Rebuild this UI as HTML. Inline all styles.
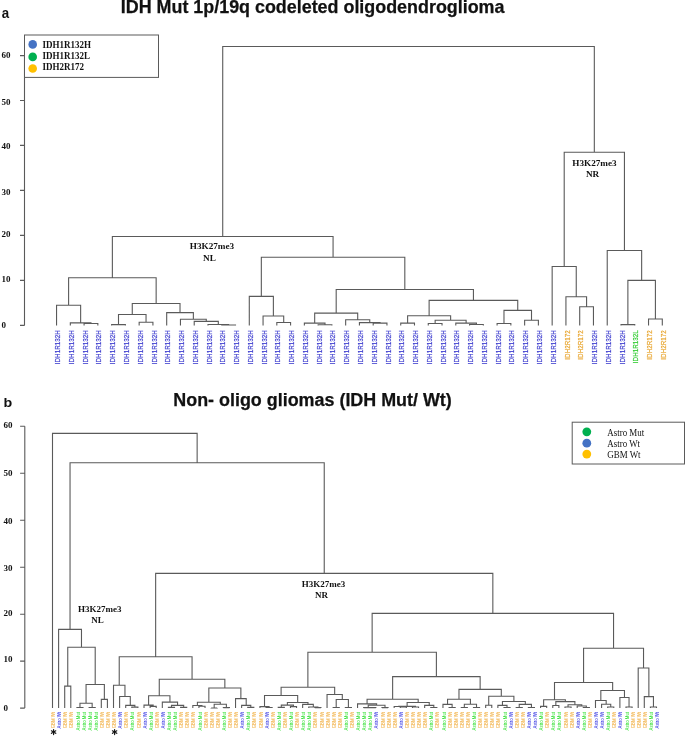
<!DOCTYPE html>
<html><head><meta charset="utf-8"><style>
html,body{margin:0;padding:0;background:#fff;}
body{width:685px;height:736px;overflow:hidden;}
svg{display:block;will-change:transform;}
.t{font-family:"Liberation Sans",sans-serif;font-weight:bold;}
.s{font-family:"Liberation Serif",serif;}
</style></head><body>
<svg width="685" height="736" viewBox="0 0 685 736">
<rect width="685" height="736" fill="#fff"/>

<text class="t" x="120.8" y="12.6" font-size="17.9" fill="#111" stroke="#111" stroke-width="0.25">IDH Mut 1p/19q codeleted oligodendroglioma</text>
<text class="t" x="173.3" y="405.6" font-size="17.92" fill="#111" stroke="#111" stroke-width="0.25">Non- oligo gliomas (IDH Mut/ Wt)</text>
<text class="t" x="0" y="0" font-size="15.5" fill="#111" transform="translate(1.7 18) scale(0.86 1)">a</text>
<text class="t" x="0" y="0" font-size="13.6" fill="#111" transform="translate(3.5 407.2) scale(1.05 1)">b</text>
<path d="M24.5 55.6V325.4M20 55.6H24.5M20 100.5H24.5M20 145.4H24.5M20 190.4H24.5M20 235.4H24.5M20 280.4H24.5M20 325.4H24.5" stroke="#5a5a5a" stroke-width="1.1" fill="none"/>
<text class="s" x="1.5" y="58.40" font-size="9" font-weight="bold" fill="#111">60</text>
<text class="s" x="1.5" y="104.75" font-size="9" font-weight="bold" fill="#111">50</text>
<text class="s" x="1.5" y="149.45" font-size="9" font-weight="bold" fill="#111">40</text>
<text class="s" x="1.5" y="194.55" font-size="9" font-weight="bold" fill="#111">30</text>
<text class="s" x="1.5" y="237.35" font-size="9" font-weight="bold" fill="#111">20</text>
<text class="s" x="1.5" y="282.05" font-size="9" font-weight="bold" fill="#111">10</text>
<text class="s" x="1.5" y="328.25" font-size="9" font-weight="bold" fill="#111">0</text>
<path d="M24.8 426.3V708.1M20.1 426.3H24.8M20.1 473.3H24.8M20.1 520.2H24.8M20.1 567.2H24.8M20.1 614.2H24.8M20.1 661.1H24.8M20.1 708.1H24.8" stroke="#5a5a5a" stroke-width="1.1" fill="none"/>
<text class="s" x="3.5" y="427.55" font-size="9" font-weight="bold" fill="#111">60</text>
<text class="s" x="3.5" y="475.95" font-size="9" font-weight="bold" fill="#111">50</text>
<text class="s" x="3.5" y="524.45" font-size="9" font-weight="bold" fill="#111">40</text>
<text class="s" x="3.5" y="570.55" font-size="9" font-weight="bold" fill="#111">30</text>
<text class="s" x="3.5" y="615.85" font-size="9" font-weight="bold" fill="#111">20</text>
<text class="s" x="3.5" y="661.65" font-size="9" font-weight="bold" fill="#111">10</text>
<text class="s" x="3.5" y="710.55" font-size="9" font-weight="bold" fill="#111">0</text>
<path d="M84.08 325.60V323.50H97.85V325.60M70.32 325.60V322.90H90.97V323.50M56.55 325.60V305.30H80.64V322.90M111.62 325.60V324.60H125.38V325.60M139.15 325.60V322.20H152.92V325.60M118.50 324.60V314.50H146.04V322.20M221.75 325.60V325.00H235.52V325.60M207.99 325.60V324.50H228.64V325.00M194.22 325.60V321.40H218.31V324.50M180.45 325.60V319.30H206.27V321.40M166.69 325.60V312.60H193.36V319.30M132.27 314.50V303.50H180.02V312.60M68.60 305.30V277.80H156.15V303.50M276.82 325.60V322.50H290.59V325.60M263.06 325.60V316.00H283.71V322.50M249.29 325.60V296.40H273.38V316.00M318.12 325.60V324.80H331.89V325.60M304.36 325.60V323.10H325.01V324.80M373.19 325.60V323.10H386.96V325.60M359.42 325.60V322.60H380.07V323.10M345.66 325.60V319.70H369.75V322.60M314.68 323.10V313.10H357.70V319.70M400.73 325.60V323.10H414.49V325.60M428.26 325.60V323.50H442.03V325.60M469.56 325.60V324.50H483.33V325.60M455.79 325.60V323.10H476.44V324.50M435.14 323.50V320.30H466.12V323.10M407.61 323.10V315.80H450.63V320.30M497.09 325.60V323.50H510.86V325.60M524.63 325.60V320.30H538.39V325.60M503.98 323.50V310.40H531.51V320.30M429.12 315.80V300.40H517.74V310.40M336.19 313.10V289.50H473.43V300.40M261.33 296.40V257.30H404.81V289.50M112.37 277.80V236.50H333.07V257.30M579.70 325.60V306.80H593.46V325.60M565.93 325.60V296.70H586.58V306.80M552.16 325.60V266.50H576.25V296.70M621.00 325.60V324.60H634.76V325.60M648.53 325.60V319.00H662.30V325.60M627.88 324.60V280.40H655.41V319.00M607.23 325.60V250.50H641.65V280.40M564.21 266.50V152.20H624.44V250.50M222.72 236.50V46.50H594.32V152.20" stroke="#5a5a5a" stroke-width="1.1" fill="none"/>
<path d="M64.70 707.90V686.10H70.80V707.90M76.90 707.90V707.50H83.00V707.90M89.11 707.90V707.50H95.21V707.90M79.95 707.50V703.20H92.16V707.50M101.31 707.90V699.40H107.41V707.90M86.06 703.20V684.50H104.36V699.40M67.75 686.10V647.20H95.21V684.50M58.60 707.90V629.40H81.48V647.20M131.81 707.90V707.10H137.91V707.90M125.71 707.90V705.40H134.86V707.10M119.61 707.90V696.50H130.29V705.40M113.51 707.90V685.30H124.95V696.50M150.12 707.90V706.40H156.22V707.90M144.01 707.90V705.10H153.17V706.40M168.42 707.90V707.40H174.52V707.90M180.62 707.90V707.40H186.72V707.90M171.47 707.40V705.40H183.67V707.40M162.32 707.90V702.10H177.57V705.40M148.59 705.10V695.70H169.94V702.10M198.92 707.90V706.30H205.03V707.90M192.82 707.90V705.50H201.97V706.30M211.13 707.90V708.00H217.23V707.90M223.33 707.90V707.60H229.43V707.90M214.18 708.00V704.30H226.38V707.60M197.40 705.50V702.30H220.28V704.30M247.73 707.90V707.40H253.83V707.90M241.63 707.90V705.40H250.78V707.40M235.53 707.90V698.60H246.21V705.40M208.84 702.30V688.00H240.87V698.60M159.27 695.70V679.30H224.85V688.00M119.23 685.30V656.70H192.06V679.30M266.03 707.90V707.50H272.14V707.90M259.93 707.90V706.60H269.09V707.50M278.24 707.90V707.40H284.34V707.90M290.44 707.90V706.60H296.54V707.90M281.29 707.40V705.10H293.49V706.60M314.84 707.90V707.60H320.94V707.90M308.74 707.90V707.00H317.89V707.60M302.64 707.90V704.40H313.32V707.00M287.39 705.10V702.50H307.98V704.40M264.51 706.60V695.50H297.68V702.50M333.15 707.90V707.50H339.25V707.90M345.35 707.90V707.50H351.45V707.90M336.20 707.50V699.50H348.40V707.50M327.05 707.90V694.50H342.30V699.50M281.10 695.50V687.30H334.67V694.50M369.75 707.90V707.60H375.85V707.90M363.65 707.90V707.60H372.80V707.60M381.95 707.90V707.60H388.06V707.90M368.23 707.60V705.20H385.00V707.60M357.55 707.90V703.90H376.62V705.20M400.26 707.90V707.00H406.36V707.90M394.16 707.90V706.50H403.31V707.00M412.46 707.90V707.00H418.56V707.90M398.73 706.50V706.40H415.51V707.00M430.76 707.90V707.50H436.86V707.90M424.66 707.90V705.40H433.81V707.50M407.12 706.40V702.50H429.24V705.40M367.08 703.90V699.30H418.18V702.50M449.06 707.90V707.50H455.17V707.90M442.96 707.90V704.40H452.12V707.50M461.27 707.90V707.50H467.37V707.90M473.47 707.90V707.50H479.57V707.90M464.32 707.50V704.20H476.52V707.50M447.54 704.40V699.30H470.42V704.20M485.67 707.90V705.20H491.77V707.90M503.97 707.90V707.50H510.07V707.90M497.87 707.90V705.40H507.02V707.50M516.18 707.90V707.50H522.28V707.90M528.38 707.90V707.50H534.48V707.90M519.23 707.50V704.40H531.43V707.50M502.45 705.40V701.50H525.33V704.40M488.72 705.20V696.20H513.89V701.50M458.98 699.30V689.40H501.30V696.20M392.63 699.30V676.60H480.14V689.40M307.88 687.30V652.30H436.39V676.60M540.58 707.90V706.40H546.68V707.90M552.78 707.90V705.50H558.88V707.90M564.98 707.90V707.00H571.09V707.90M583.29 707.90V707.50H589.39V707.90M577.19 707.90V706.00H586.34V707.50M568.03 707.00V704.70H581.76V706.00M555.83 705.50V701.60H574.90V704.70M543.63 706.40V699.70H565.37V701.60M607.69 707.90V707.00H613.79V707.90M601.59 707.90V704.20H610.74V707.00M595.49 707.90V700.50H606.17V704.20M625.99 707.90V707.00H632.10V707.90M619.89 707.90V697.50H629.04V707.00M600.83 700.50V690.50H624.47V697.50M554.50 699.70V682.50H612.65V690.50M650.40 707.90V707.00H656.50V707.90M644.30 707.90V696.60H653.45V707.00M638.20 707.90V668.00H648.87V696.60M583.57 682.50V648.30H643.53V668.00M372.14 652.30V613.40H613.55V648.30M155.65 656.70V573.40H492.84V613.40M70.04 629.40V462.70H324.24V573.40M52.50 707.90V433.40H197.14V462.70" stroke="#5a5a5a" stroke-width="1.1" fill="none"/>
<text x="0" y="0" font-family="Liberation Sans" font-size="7" fill="#3f3fcf" stroke="#3f3fcf" stroke-width="0.2" text-anchor="end" transform="translate(60.15 330.3) rotate(-90) scale(0.9 1)">IDH1R132H</text>
<text x="0" y="0" font-family="Liberation Sans" font-size="7" fill="#3f3fcf" stroke="#3f3fcf" stroke-width="0.2" text-anchor="end" transform="translate(73.92 330.3) rotate(-90) scale(0.9 1)">IDH1R132H</text>
<text x="0" y="0" font-family="Liberation Sans" font-size="7" fill="#3f3fcf" stroke="#3f3fcf" stroke-width="0.2" text-anchor="end" transform="translate(87.68 330.3) rotate(-90) scale(0.9 1)">IDH1R132H</text>
<text x="0" y="0" font-family="Liberation Sans" font-size="7" fill="#3f3fcf" stroke="#3f3fcf" stroke-width="0.2" text-anchor="end" transform="translate(101.45 330.3) rotate(-90) scale(0.9 1)">IDH1R132H</text>
<text x="0" y="0" font-family="Liberation Sans" font-size="7" fill="#3f3fcf" stroke="#3f3fcf" stroke-width="0.2" text-anchor="end" transform="translate(115.22 330.3) rotate(-90) scale(0.9 1)">IDH1R132H</text>
<text x="0" y="0" font-family="Liberation Sans" font-size="7" fill="#3f3fcf" stroke="#3f3fcf" stroke-width="0.2" text-anchor="end" transform="translate(128.98 330.3) rotate(-90) scale(0.9 1)">IDH1R132H</text>
<text x="0" y="0" font-family="Liberation Sans" font-size="7" fill="#3f3fcf" stroke="#3f3fcf" stroke-width="0.2" text-anchor="end" transform="translate(142.75 330.3) rotate(-90) scale(0.9 1)">IDH1R132H</text>
<text x="0" y="0" font-family="Liberation Sans" font-size="7" fill="#3f3fcf" stroke="#3f3fcf" stroke-width="0.2" text-anchor="end" transform="translate(156.52 330.3) rotate(-90) scale(0.9 1)">IDH1R132H</text>
<text x="0" y="0" font-family="Liberation Sans" font-size="7" fill="#3f3fcf" stroke="#3f3fcf" stroke-width="0.2" text-anchor="end" transform="translate(170.29 330.3) rotate(-90) scale(0.9 1)">IDH1R132H</text>
<text x="0" y="0" font-family="Liberation Sans" font-size="7" fill="#3f3fcf" stroke="#3f3fcf" stroke-width="0.2" text-anchor="end" transform="translate(184.05 330.3) rotate(-90) scale(0.9 1)">IDH1R132H</text>
<text x="0" y="0" font-family="Liberation Sans" font-size="7" fill="#3f3fcf" stroke="#3f3fcf" stroke-width="0.2" text-anchor="end" transform="translate(197.82 330.3) rotate(-90) scale(0.9 1)">IDH1R132H</text>
<text x="0" y="0" font-family="Liberation Sans" font-size="7" fill="#3f3fcf" stroke="#3f3fcf" stroke-width="0.2" text-anchor="end" transform="translate(211.59 330.3) rotate(-90) scale(0.9 1)">IDH1R132H</text>
<text x="0" y="0" font-family="Liberation Sans" font-size="7" fill="#3f3fcf" stroke="#3f3fcf" stroke-width="0.2" text-anchor="end" transform="translate(225.35 330.3) rotate(-90) scale(0.9 1)">IDH1R132H</text>
<text x="0" y="0" font-family="Liberation Sans" font-size="7" fill="#3f3fcf" stroke="#3f3fcf" stroke-width="0.2" text-anchor="end" transform="translate(239.12 330.3) rotate(-90) scale(0.9 1)">IDH1R132H</text>
<text x="0" y="0" font-family="Liberation Sans" font-size="7" fill="#3f3fcf" stroke="#3f3fcf" stroke-width="0.2" text-anchor="end" transform="translate(252.89 330.3) rotate(-90) scale(0.9 1)">IDH1R132H</text>
<text x="0" y="0" font-family="Liberation Sans" font-size="7" fill="#3f3fcf" stroke="#3f3fcf" stroke-width="0.2" text-anchor="end" transform="translate(266.66 330.3) rotate(-90) scale(0.9 1)">IDH1R132H</text>
<text x="0" y="0" font-family="Liberation Sans" font-size="7" fill="#3f3fcf" stroke="#3f3fcf" stroke-width="0.2" text-anchor="end" transform="translate(280.42 330.3) rotate(-90) scale(0.9 1)">IDH1R132H</text>
<text x="0" y="0" font-family="Liberation Sans" font-size="7" fill="#3f3fcf" stroke="#3f3fcf" stroke-width="0.2" text-anchor="end" transform="translate(294.19 330.3) rotate(-90) scale(0.9 1)">IDH1R132H</text>
<text x="0" y="0" font-family="Liberation Sans" font-size="7" fill="#3f3fcf" stroke="#3f3fcf" stroke-width="0.2" text-anchor="end" transform="translate(307.96 330.3) rotate(-90) scale(0.9 1)">IDH1R132H</text>
<text x="0" y="0" font-family="Liberation Sans" font-size="7" fill="#3f3fcf" stroke="#3f3fcf" stroke-width="0.2" text-anchor="end" transform="translate(321.72 330.3) rotate(-90) scale(0.9 1)">IDH1R132H</text>
<text x="0" y="0" font-family="Liberation Sans" font-size="7" fill="#3f3fcf" stroke="#3f3fcf" stroke-width="0.2" text-anchor="end" transform="translate(335.49 330.3) rotate(-90) scale(0.9 1)">IDH1R132H</text>
<text x="0" y="0" font-family="Liberation Sans" font-size="7" fill="#3f3fcf" stroke="#3f3fcf" stroke-width="0.2" text-anchor="end" transform="translate(349.26 330.3) rotate(-90) scale(0.9 1)">IDH1R132H</text>
<text x="0" y="0" font-family="Liberation Sans" font-size="7" fill="#3f3fcf" stroke="#3f3fcf" stroke-width="0.2" text-anchor="end" transform="translate(363.02 330.3) rotate(-90) scale(0.9 1)">IDH1R132H</text>
<text x="0" y="0" font-family="Liberation Sans" font-size="7" fill="#3f3fcf" stroke="#3f3fcf" stroke-width="0.2" text-anchor="end" transform="translate(376.79 330.3) rotate(-90) scale(0.9 1)">IDH1R132H</text>
<text x="0" y="0" font-family="Liberation Sans" font-size="7" fill="#3f3fcf" stroke="#3f3fcf" stroke-width="0.2" text-anchor="end" transform="translate(390.56 330.3) rotate(-90) scale(0.9 1)">IDH1R132H</text>
<text x="0" y="0" font-family="Liberation Sans" font-size="7" fill="#3f3fcf" stroke="#3f3fcf" stroke-width="0.2" text-anchor="end" transform="translate(404.33 330.3) rotate(-90) scale(0.9 1)">IDH1R132H</text>
<text x="0" y="0" font-family="Liberation Sans" font-size="7" fill="#3f3fcf" stroke="#3f3fcf" stroke-width="0.2" text-anchor="end" transform="translate(418.09 330.3) rotate(-90) scale(0.9 1)">IDH1R132H</text>
<text x="0" y="0" font-family="Liberation Sans" font-size="7" fill="#3f3fcf" stroke="#3f3fcf" stroke-width="0.2" text-anchor="end" transform="translate(431.86 330.3) rotate(-90) scale(0.9 1)">IDH1R132H</text>
<text x="0" y="0" font-family="Liberation Sans" font-size="7" fill="#3f3fcf" stroke="#3f3fcf" stroke-width="0.2" text-anchor="end" transform="translate(445.63 330.3) rotate(-90) scale(0.9 1)">IDH1R132H</text>
<text x="0" y="0" font-family="Liberation Sans" font-size="7" fill="#3f3fcf" stroke="#3f3fcf" stroke-width="0.2" text-anchor="end" transform="translate(459.39 330.3) rotate(-90) scale(0.9 1)">IDH1R132H</text>
<text x="0" y="0" font-family="Liberation Sans" font-size="7" fill="#3f3fcf" stroke="#3f3fcf" stroke-width="0.2" text-anchor="end" transform="translate(473.16 330.3) rotate(-90) scale(0.9 1)">IDH1R132H</text>
<text x="0" y="0" font-family="Liberation Sans" font-size="7" fill="#3f3fcf" stroke="#3f3fcf" stroke-width="0.2" text-anchor="end" transform="translate(486.93 330.3) rotate(-90) scale(0.9 1)">IDH1R132H</text>
<text x="0" y="0" font-family="Liberation Sans" font-size="7" fill="#3f3fcf" stroke="#3f3fcf" stroke-width="0.2" text-anchor="end" transform="translate(500.69 330.3) rotate(-90) scale(0.9 1)">IDH1R132H</text>
<text x="0" y="0" font-family="Liberation Sans" font-size="7" fill="#3f3fcf" stroke="#3f3fcf" stroke-width="0.2" text-anchor="end" transform="translate(514.46 330.3) rotate(-90) scale(0.9 1)">IDH1R132H</text>
<text x="0" y="0" font-family="Liberation Sans" font-size="7" fill="#3f3fcf" stroke="#3f3fcf" stroke-width="0.2" text-anchor="end" transform="translate(528.23 330.3) rotate(-90) scale(0.9 1)">IDH1R132H</text>
<text x="0" y="0" font-family="Liberation Sans" font-size="7" fill="#3f3fcf" stroke="#3f3fcf" stroke-width="0.2" text-anchor="end" transform="translate(542.00 330.3) rotate(-90) scale(0.9 1)">IDH1R132H</text>
<text x="0" y="0" font-family="Liberation Sans" font-size="7" fill="#3f3fcf" stroke="#3f3fcf" stroke-width="0.2" text-anchor="end" transform="translate(555.76 330.3) rotate(-90) scale(0.9 1)">IDH1R132H</text>
<text x="0" y="0" font-family="Liberation Sans" font-size="7" fill="#e8a630" stroke="#e8a630" stroke-width="0.2" text-anchor="end" transform="translate(569.53 330.3) rotate(-90) scale(0.9 1)">IDH2R172</text>
<text x="0" y="0" font-family="Liberation Sans" font-size="7" fill="#e8a630" stroke="#e8a630" stroke-width="0.2" text-anchor="end" transform="translate(583.30 330.3) rotate(-90) scale(0.9 1)">IDH2R172</text>
<text x="0" y="0" font-family="Liberation Sans" font-size="7" fill="#3f3fcf" stroke="#3f3fcf" stroke-width="0.2" text-anchor="end" transform="translate(597.06 330.3) rotate(-90) scale(0.9 1)">IDH1R132H</text>
<text x="0" y="0" font-family="Liberation Sans" font-size="7" fill="#3f3fcf" stroke="#3f3fcf" stroke-width="0.2" text-anchor="end" transform="translate(610.83 330.3) rotate(-90) scale(0.9 1)">IDH1R132H</text>
<text x="0" y="0" font-family="Liberation Sans" font-size="7" fill="#3f3fcf" stroke="#3f3fcf" stroke-width="0.2" text-anchor="end" transform="translate(624.60 330.3) rotate(-90) scale(0.9 1)">IDH1R132H</text>
<text x="0" y="0" font-family="Liberation Sans" font-size="7" fill="#33cc33" stroke="#33cc33" stroke-width="0.2" text-anchor="end" transform="translate(638.36 330.3) rotate(-90) scale(0.9 1)">IDH1R132L</text>
<text x="0" y="0" font-family="Liberation Sans" font-size="7" fill="#e8a630" stroke="#e8a630" stroke-width="0.2" text-anchor="end" transform="translate(652.13 330.3) rotate(-90) scale(0.9 1)">IDH2R172</text>
<text x="0" y="0" font-family="Liberation Sans" font-size="7" fill="#e8a630" stroke="#e8a630" stroke-width="0.2" text-anchor="end" transform="translate(665.90 330.3) rotate(-90) scale(0.9 1)">IDH2R172</text>
<text x="0" y="0" font-family="Liberation Sans" font-size="5" fill="#f0a830" text-anchor="end" transform="translate(55.10 712) rotate(-90) scale(0.86 1)">GBM Wt</text>
<text x="0" y="0" font-family="Liberation Sans" font-size="5" fill="#2828e0" text-anchor="end" transform="translate(61.20 712) rotate(-90) scale(0.86 1)">Astro Wt</text>
<text x="0" y="0" font-family="Liberation Sans" font-size="5" fill="#f0a830" text-anchor="end" transform="translate(67.30 712) rotate(-90) scale(0.86 1)">GBM Wt</text>
<text x="0" y="0" font-family="Liberation Sans" font-size="5" fill="#f0a830" text-anchor="end" transform="translate(73.40 712) rotate(-90) scale(0.86 1)">GBM Wt</text>
<text x="0" y="0" font-family="Liberation Sans" font-size="5" fill="#2ee02e" text-anchor="end" transform="translate(79.50 712) rotate(-90) scale(0.86 1)">Astro Mut</text>
<text x="0" y="0" font-family="Liberation Sans" font-size="5" fill="#2ee02e" text-anchor="end" transform="translate(85.60 712) rotate(-90) scale(0.86 1)">Astro Mut</text>
<text x="0" y="0" font-family="Liberation Sans" font-size="5" fill="#2ee02e" text-anchor="end" transform="translate(91.71 712) rotate(-90) scale(0.86 1)">Astro Mut</text>
<text x="0" y="0" font-family="Liberation Sans" font-size="5" fill="#2ee02e" text-anchor="end" transform="translate(97.81 712) rotate(-90) scale(0.86 1)">Astro Mut</text>
<text x="0" y="0" font-family="Liberation Sans" font-size="5" fill="#f0a830" text-anchor="end" transform="translate(103.91 712) rotate(-90) scale(0.86 1)">GBM Wt</text>
<text x="0" y="0" font-family="Liberation Sans" font-size="5" fill="#f0a830" text-anchor="end" transform="translate(110.01 712) rotate(-90) scale(0.86 1)">GBM Wt</text>
<text x="0" y="0" font-family="Liberation Sans" font-size="5" fill="#f0a830" text-anchor="end" transform="translate(116.11 712) rotate(-90) scale(0.86 1)">GBM Wt</text>
<text x="0" y="0" font-family="Liberation Sans" font-size="5" fill="#2828e0" text-anchor="end" transform="translate(122.21 712) rotate(-90) scale(0.86 1)">Astro Wt</text>
<text x="0" y="0" font-family="Liberation Sans" font-size="5" fill="#f0a830" text-anchor="end" transform="translate(128.31 712) rotate(-90) scale(0.86 1)">GBM Wt</text>
<text x="0" y="0" font-family="Liberation Sans" font-size="5" fill="#2ee02e" text-anchor="end" transform="translate(134.41 712) rotate(-90) scale(0.86 1)">Astro Mut</text>
<text x="0" y="0" font-family="Liberation Sans" font-size="5" fill="#f0a830" text-anchor="end" transform="translate(140.51 712) rotate(-90) scale(0.86 1)">GBM Wt</text>
<text x="0" y="0" font-family="Liberation Sans" font-size="5" fill="#2828e0" text-anchor="end" transform="translate(146.61 712) rotate(-90) scale(0.86 1)">Astro Wt</text>
<text x="0" y="0" font-family="Liberation Sans" font-size="5" fill="#2ee02e" text-anchor="end" transform="translate(152.72 712) rotate(-90) scale(0.86 1)">Astro Mut</text>
<text x="0" y="0" font-family="Liberation Sans" font-size="5" fill="#f0a830" text-anchor="end" transform="translate(158.82 712) rotate(-90) scale(0.86 1)">GBM Wt</text>
<text x="0" y="0" font-family="Liberation Sans" font-size="5" fill="#2828e0" text-anchor="end" transform="translate(164.92 712) rotate(-90) scale(0.86 1)">Astro Wt</text>
<text x="0" y="0" font-family="Liberation Sans" font-size="5" fill="#2ee02e" text-anchor="end" transform="translate(171.02 712) rotate(-90) scale(0.86 1)">Astro Mut</text>
<text x="0" y="0" font-family="Liberation Sans" font-size="5" fill="#2ee02e" text-anchor="end" transform="translate(177.12 712) rotate(-90) scale(0.86 1)">Astro Mut</text>
<text x="0" y="0" font-family="Liberation Sans" font-size="5" fill="#f0a830" text-anchor="end" transform="translate(183.22 712) rotate(-90) scale(0.86 1)">GBM Wt</text>
<text x="0" y="0" font-family="Liberation Sans" font-size="5" fill="#f0a830" text-anchor="end" transform="translate(189.32 712) rotate(-90) scale(0.86 1)">GBM Wt</text>
<text x="0" y="0" font-family="Liberation Sans" font-size="5" fill="#f0a830" text-anchor="end" transform="translate(195.42 712) rotate(-90) scale(0.86 1)">GBM Wt</text>
<text x="0" y="0" font-family="Liberation Sans" font-size="5" fill="#2ee02e" text-anchor="end" transform="translate(201.52 712) rotate(-90) scale(0.86 1)">Astro Mut</text>
<text x="0" y="0" font-family="Liberation Sans" font-size="5" fill="#f0a830" text-anchor="end" transform="translate(207.62 712) rotate(-90) scale(0.86 1)">GBM Wt</text>
<text x="0" y="0" font-family="Liberation Sans" font-size="5" fill="#f0a830" text-anchor="end" transform="translate(213.73 712) rotate(-90) scale(0.86 1)">GBM Wt</text>
<text x="0" y="0" font-family="Liberation Sans" font-size="5" fill="#f0a830" text-anchor="end" transform="translate(219.83 712) rotate(-90) scale(0.86 1)">GBM Wt</text>
<text x="0" y="0" font-family="Liberation Sans" font-size="5" fill="#2ee02e" text-anchor="end" transform="translate(225.93 712) rotate(-90) scale(0.86 1)">Astro Mut</text>
<text x="0" y="0" font-family="Liberation Sans" font-size="5" fill="#f0a830" text-anchor="end" transform="translate(232.03 712) rotate(-90) scale(0.86 1)">GBM Wt</text>
<text x="0" y="0" font-family="Liberation Sans" font-size="5" fill="#f0a830" text-anchor="end" transform="translate(238.13 712) rotate(-90) scale(0.86 1)">GBM Wt</text>
<text x="0" y="0" font-family="Liberation Sans" font-size="5" fill="#2828e0" text-anchor="end" transform="translate(244.23 712) rotate(-90) scale(0.86 1)">Astro Wt</text>
<text x="0" y="0" font-family="Liberation Sans" font-size="5" fill="#2ee02e" text-anchor="end" transform="translate(250.33 712) rotate(-90) scale(0.86 1)">Astro Mut</text>
<text x="0" y="0" font-family="Liberation Sans" font-size="5" fill="#f0a830" text-anchor="end" transform="translate(256.43 712) rotate(-90) scale(0.86 1)">GBM Wt</text>
<text x="0" y="0" font-family="Liberation Sans" font-size="5" fill="#f0a830" text-anchor="end" transform="translate(262.53 712) rotate(-90) scale(0.86 1)">GBM Wt</text>
<text x="0" y="0" font-family="Liberation Sans" font-size="5" fill="#2828e0" text-anchor="end" transform="translate(268.63 712) rotate(-90) scale(0.86 1)">Astro Wt</text>
<text x="0" y="0" font-family="Liberation Sans" font-size="5" fill="#f0a830" text-anchor="end" transform="translate(274.74 712) rotate(-90) scale(0.86 1)">GBM Wt</text>
<text x="0" y="0" font-family="Liberation Sans" font-size="5" fill="#2ee02e" text-anchor="end" transform="translate(280.84 712) rotate(-90) scale(0.86 1)">Astro Mut</text>
<text x="0" y="0" font-family="Liberation Sans" font-size="5" fill="#f0a830" text-anchor="end" transform="translate(286.94 712) rotate(-90) scale(0.86 1)">GBM Wt</text>
<text x="0" y="0" font-family="Liberation Sans" font-size="5" fill="#2ee02e" text-anchor="end" transform="translate(293.04 712) rotate(-90) scale(0.86 1)">Astro Mut</text>
<text x="0" y="0" font-family="Liberation Sans" font-size="5" fill="#f0a830" text-anchor="end" transform="translate(299.14 712) rotate(-90) scale(0.86 1)">GBM Wt</text>
<text x="0" y="0" font-family="Liberation Sans" font-size="5" fill="#2ee02e" text-anchor="end" transform="translate(305.24 712) rotate(-90) scale(0.86 1)">Astro Mut</text>
<text x="0" y="0" font-family="Liberation Sans" font-size="5" fill="#2ee02e" text-anchor="end" transform="translate(311.34 712) rotate(-90) scale(0.86 1)">Astro Mut</text>
<text x="0" y="0" font-family="Liberation Sans" font-size="5" fill="#f0a830" text-anchor="end" transform="translate(317.44 712) rotate(-90) scale(0.86 1)">GBM Wt</text>
<text x="0" y="0" font-family="Liberation Sans" font-size="5" fill="#f0a830" text-anchor="end" transform="translate(323.54 712) rotate(-90) scale(0.86 1)">GBM Wt</text>
<text x="0" y="0" font-family="Liberation Sans" font-size="5" fill="#f0a830" text-anchor="end" transform="translate(329.65 712) rotate(-90) scale(0.86 1)">GBM Wt</text>
<text x="0" y="0" font-family="Liberation Sans" font-size="5" fill="#f0a830" text-anchor="end" transform="translate(335.75 712) rotate(-90) scale(0.86 1)">GBM Wt</text>
<text x="0" y="0" font-family="Liberation Sans" font-size="5" fill="#f0a830" text-anchor="end" transform="translate(341.85 712) rotate(-90) scale(0.86 1)">GBM Wt</text>
<text x="0" y="0" font-family="Liberation Sans" font-size="5" fill="#2ee02e" text-anchor="end" transform="translate(347.95 712) rotate(-90) scale(0.86 1)">Astro Mut</text>
<text x="0" y="0" font-family="Liberation Sans" font-size="5" fill="#f0a830" text-anchor="end" transform="translate(354.05 712) rotate(-90) scale(0.86 1)">GBM Wt</text>
<text x="0" y="0" font-family="Liberation Sans" font-size="5" fill="#2ee02e" text-anchor="end" transform="translate(360.15 712) rotate(-90) scale(0.86 1)">Astro Mut</text>
<text x="0" y="0" font-family="Liberation Sans" font-size="5" fill="#2ee02e" text-anchor="end" transform="translate(366.25 712) rotate(-90) scale(0.86 1)">Astro Mut</text>
<text x="0" y="0" font-family="Liberation Sans" font-size="5" fill="#2ee02e" text-anchor="end" transform="translate(372.35 712) rotate(-90) scale(0.86 1)">Astro Mut</text>
<text x="0" y="0" font-family="Liberation Sans" font-size="5" fill="#2828e0" text-anchor="end" transform="translate(378.45 712) rotate(-90) scale(0.86 1)">Astro Wt</text>
<text x="0" y="0" font-family="Liberation Sans" font-size="5" fill="#f0a830" text-anchor="end" transform="translate(384.55 712) rotate(-90) scale(0.86 1)">GBM Wt</text>
<text x="0" y="0" font-family="Liberation Sans" font-size="5" fill="#f0a830" text-anchor="end" transform="translate(390.66 712) rotate(-90) scale(0.86 1)">GBM Wt</text>
<text x="0" y="0" font-family="Liberation Sans" font-size="5" fill="#f0a830" text-anchor="end" transform="translate(396.76 712) rotate(-90) scale(0.86 1)">GBM Wt</text>
<text x="0" y="0" font-family="Liberation Sans" font-size="5" fill="#2828e0" text-anchor="end" transform="translate(402.86 712) rotate(-90) scale(0.86 1)">Astro Wt</text>
<text x="0" y="0" font-family="Liberation Sans" font-size="5" fill="#f0a830" text-anchor="end" transform="translate(408.96 712) rotate(-90) scale(0.86 1)">GBM Wt</text>
<text x="0" y="0" font-family="Liberation Sans" font-size="5" fill="#f0a830" text-anchor="end" transform="translate(415.06 712) rotate(-90) scale(0.86 1)">GBM Wt</text>
<text x="0" y="0" font-family="Liberation Sans" font-size="5" fill="#f0a830" text-anchor="end" transform="translate(421.16 712) rotate(-90) scale(0.86 1)">GBM Wt</text>
<text x="0" y="0" font-family="Liberation Sans" font-size="5" fill="#f0a830" text-anchor="end" transform="translate(427.26 712) rotate(-90) scale(0.86 1)">GBM Wt</text>
<text x="0" y="0" font-family="Liberation Sans" font-size="5" fill="#2ee02e" text-anchor="end" transform="translate(433.36 712) rotate(-90) scale(0.86 1)">Astro Mut</text>
<text x="0" y="0" font-family="Liberation Sans" font-size="5" fill="#f0a830" text-anchor="end" transform="translate(439.46 712) rotate(-90) scale(0.86 1)">GBM Wt</text>
<text x="0" y="0" font-family="Liberation Sans" font-size="5" fill="#2ee02e" text-anchor="end" transform="translate(445.56 712) rotate(-90) scale(0.86 1)">Astro Mut</text>
<text x="0" y="0" font-family="Liberation Sans" font-size="5" fill="#f0a830" text-anchor="end" transform="translate(451.67 712) rotate(-90) scale(0.86 1)">GBM Wt</text>
<text x="0" y="0" font-family="Liberation Sans" font-size="5" fill="#f0a830" text-anchor="end" transform="translate(457.77 712) rotate(-90) scale(0.86 1)">GBM Wt</text>
<text x="0" y="0" font-family="Liberation Sans" font-size="5" fill="#f0a830" text-anchor="end" transform="translate(463.87 712) rotate(-90) scale(0.86 1)">GBM Wt</text>
<text x="0" y="0" font-family="Liberation Sans" font-size="5" fill="#f0a830" text-anchor="end" transform="translate(469.97 712) rotate(-90) scale(0.86 1)">GBM Wt</text>
<text x="0" y="0" font-family="Liberation Sans" font-size="5" fill="#2ee02e" text-anchor="end" transform="translate(476.07 712) rotate(-90) scale(0.86 1)">Astro Mut</text>
<text x="0" y="0" font-family="Liberation Sans" font-size="5" fill="#f0a830" text-anchor="end" transform="translate(482.17 712) rotate(-90) scale(0.86 1)">GBM Wt</text>
<text x="0" y="0" font-family="Liberation Sans" font-size="5" fill="#f0a830" text-anchor="end" transform="translate(488.27 712) rotate(-90) scale(0.86 1)">GBM Wt</text>
<text x="0" y="0" font-family="Liberation Sans" font-size="5" fill="#f0a830" text-anchor="end" transform="translate(494.37 712) rotate(-90) scale(0.86 1)">GBM Wt</text>
<text x="0" y="0" font-family="Liberation Sans" font-size="5" fill="#f0a830" text-anchor="end" transform="translate(500.47 712) rotate(-90) scale(0.86 1)">GBM Wt</text>
<text x="0" y="0" font-family="Liberation Sans" font-size="5" fill="#2ee02e" text-anchor="end" transform="translate(506.57 712) rotate(-90) scale(0.86 1)">Astro Mut</text>
<text x="0" y="0" font-family="Liberation Sans" font-size="5" fill="#2828e0" text-anchor="end" transform="translate(512.67 712) rotate(-90) scale(0.86 1)">Astro Wt</text>
<text x="0" y="0" font-family="Liberation Sans" font-size="5" fill="#f0a830" text-anchor="end" transform="translate(518.78 712) rotate(-90) scale(0.86 1)">GBM Wt</text>
<text x="0" y="0" font-family="Liberation Sans" font-size="5" fill="#f0a830" text-anchor="end" transform="translate(524.88 712) rotate(-90) scale(0.86 1)">GBM Wt</text>
<text x="0" y="0" font-family="Liberation Sans" font-size="5" fill="#2828e0" text-anchor="end" transform="translate(530.98 712) rotate(-90) scale(0.86 1)">Astro Wt</text>
<text x="0" y="0" font-family="Liberation Sans" font-size="5" fill="#2828e0" text-anchor="end" transform="translate(537.08 712) rotate(-90) scale(0.86 1)">Astro Wt</text>
<text x="0" y="0" font-family="Liberation Sans" font-size="5" fill="#2ee02e" text-anchor="end" transform="translate(543.18 712) rotate(-90) scale(0.86 1)">Astro Mut</text>
<text x="0" y="0" font-family="Liberation Sans" font-size="5" fill="#f0a830" text-anchor="end" transform="translate(549.28 712) rotate(-90) scale(0.86 1)">GBM Wt</text>
<text x="0" y="0" font-family="Liberation Sans" font-size="5" fill="#2ee02e" text-anchor="end" transform="translate(555.38 712) rotate(-90) scale(0.86 1)">Astro Mut</text>
<text x="0" y="0" font-family="Liberation Sans" font-size="5" fill="#2ee02e" text-anchor="end" transform="translate(561.48 712) rotate(-90) scale(0.86 1)">Astro Mut</text>
<text x="0" y="0" font-family="Liberation Sans" font-size="5" fill="#f0a830" text-anchor="end" transform="translate(567.58 712) rotate(-90) scale(0.86 1)">GBM Wt</text>
<text x="0" y="0" font-family="Liberation Sans" font-size="5" fill="#f0a830" text-anchor="end" transform="translate(573.69 712) rotate(-90) scale(0.86 1)">GBM Wt</text>
<text x="0" y="0" font-family="Liberation Sans" font-size="5" fill="#2828e0" text-anchor="end" transform="translate(579.79 712) rotate(-90) scale(0.86 1)">Astro Wt</text>
<text x="0" y="0" font-family="Liberation Sans" font-size="5" fill="#2ee02e" text-anchor="end" transform="translate(585.89 712) rotate(-90) scale(0.86 1)">Astro Mut</text>
<text x="0" y="0" font-family="Liberation Sans" font-size="5" fill="#f0a830" text-anchor="end" transform="translate(591.99 712) rotate(-90) scale(0.86 1)">GBM Wt</text>
<text x="0" y="0" font-family="Liberation Sans" font-size="5" fill="#2828e0" text-anchor="end" transform="translate(598.09 712) rotate(-90) scale(0.86 1)">Astro Wt</text>
<text x="0" y="0" font-family="Liberation Sans" font-size="5" fill="#2828e0" text-anchor="end" transform="translate(604.19 712) rotate(-90) scale(0.86 1)">Astro Wt</text>
<text x="0" y="0" font-family="Liberation Sans" font-size="5" fill="#2ee02e" text-anchor="end" transform="translate(610.29 712) rotate(-90) scale(0.86 1)">Astro Mut</text>
<text x="0" y="0" font-family="Liberation Sans" font-size="5" fill="#f0a830" text-anchor="end" transform="translate(616.39 712) rotate(-90) scale(0.86 1)">GBM Wt</text>
<text x="0" y="0" font-family="Liberation Sans" font-size="5" fill="#2828e0" text-anchor="end" transform="translate(622.49 712) rotate(-90) scale(0.86 1)">Astro Wt</text>
<text x="0" y="0" font-family="Liberation Sans" font-size="5" fill="#2ee02e" text-anchor="end" transform="translate(628.59 712) rotate(-90) scale(0.86 1)">Astro Mut</text>
<text x="0" y="0" font-family="Liberation Sans" font-size="5" fill="#f0a830" text-anchor="end" transform="translate(634.70 712) rotate(-90) scale(0.86 1)">GBM Wt</text>
<text x="0" y="0" font-family="Liberation Sans" font-size="5" fill="#f0a830" text-anchor="end" transform="translate(640.80 712) rotate(-90) scale(0.86 1)">GBM Wt</text>
<text x="0" y="0" font-family="Liberation Sans" font-size="5" fill="#f0a830" text-anchor="end" transform="translate(646.90 712) rotate(-90) scale(0.86 1)">GBM Wt</text>
<text x="0" y="0" font-family="Liberation Sans" font-size="5" fill="#2ee02e" text-anchor="end" transform="translate(653.00 712) rotate(-90) scale(0.86 1)">Astro Mut</text>
<text x="0" y="0" font-family="Liberation Sans" font-size="5" fill="#2828e0" text-anchor="end" transform="translate(659.10 712) rotate(-90) scale(0.86 1)">Astro Wt</text>
<path d="M53.60 729.60L53.60 734.60M51.43 730.85L55.77 733.35M51.43 733.35L55.77 730.85" stroke="#111" stroke-width="1.15" stroke-linecap="round" fill="none"/>
<path d="M114.61 729.60L114.61 734.60M112.44 730.85L116.78 733.35M112.44 733.35L116.78 730.85" stroke="#111" stroke-width="1.15" stroke-linecap="round" fill="none"/>
<text class="s" font-weight="bold" font-size="9.2" fill="#111" text-anchor="middle" x="212.0" y="249.4">H3K27me3</text><text class="s" font-weight="bold" font-size="9.2" fill="#111" text-anchor="middle" x="209.5" y="260.5">NL</text>
<text class="s" font-weight="bold" font-size="9.2" fill="#111" text-anchor="middle" x="594.5" y="166.1">H3K27me3</text><text class="s" font-weight="bold" font-size="9.2" fill="#111" text-anchor="middle" x="592.6" y="176.8">NR</text>
<text class="s" font-weight="bold" font-size="9" fill="#111" text-anchor="middle" x="99.65" y="611.5">H3K27me3</text><text class="s" font-weight="bold" font-size="9" fill="#111" text-anchor="middle" x="97.6" y="622.5">NL</text>
<text class="s" font-weight="bold" font-size="9" fill="#111" text-anchor="middle" x="323.55" y="586.5">H3K27me3</text><text class="s" font-weight="bold" font-size="9" fill="#111" text-anchor="middle" x="321.5" y="597.5">NR</text>
<rect x="24.5" y="35" width="134" height="42.4" fill="#fff" stroke="#5a5a5a" stroke-width="1"/>
<circle cx="32.7" cy="44.4" r="4.3" fill="#4472c4"/>
<text class="s" font-weight="bold" font-size="9.6" fill="#111" transform="translate(42.4 48.0) scale(0.94 1)">IDH1R132H</text>
<circle cx="32.7" cy="56.9" r="4.3" fill="#00b050"/>
<text class="s" font-weight="bold" font-size="9.6" fill="#111" transform="translate(42.4 59.2) scale(0.94 1)">IDH1R132L</text>
<circle cx="32.7" cy="68.5" r="4.3" fill="#ffc000"/>
<text class="s" font-weight="bold" font-size="9.6" fill="#111" transform="translate(42.4 70.2) scale(0.94 1)">IDH2R172</text>
<rect x="572.2" y="422.2" width="112.3" height="41.8" fill="#fff" stroke="#5a5a5a" stroke-width="1"/>
<circle cx="586.8" cy="431.8" r="4.4" fill="#00b050"/>
<text class="s" font-size="9.6" fill="#111" x="607.3" y="436.3" transform="translate(607.3 0) scale(0.93 1) translate(-607.3 0)">Astro Mut</text>
<circle cx="586.8" cy="443.2" r="4.4" fill="#4472c4"/>
<text class="s" font-size="9.6" fill="#111" x="607.3" y="447.0" transform="translate(607.3 0) scale(0.93 1) translate(-607.3 0)">Astro Wt</text>
<circle cx="586.8" cy="454.1" r="4.4" fill="#ffc000"/>
<text class="s" font-size="9.6" fill="#111" x="607.3" y="457.9" transform="translate(607.3 0) scale(0.93 1) translate(-607.3 0)">GBM Wt</text>
</svg></body></html>
